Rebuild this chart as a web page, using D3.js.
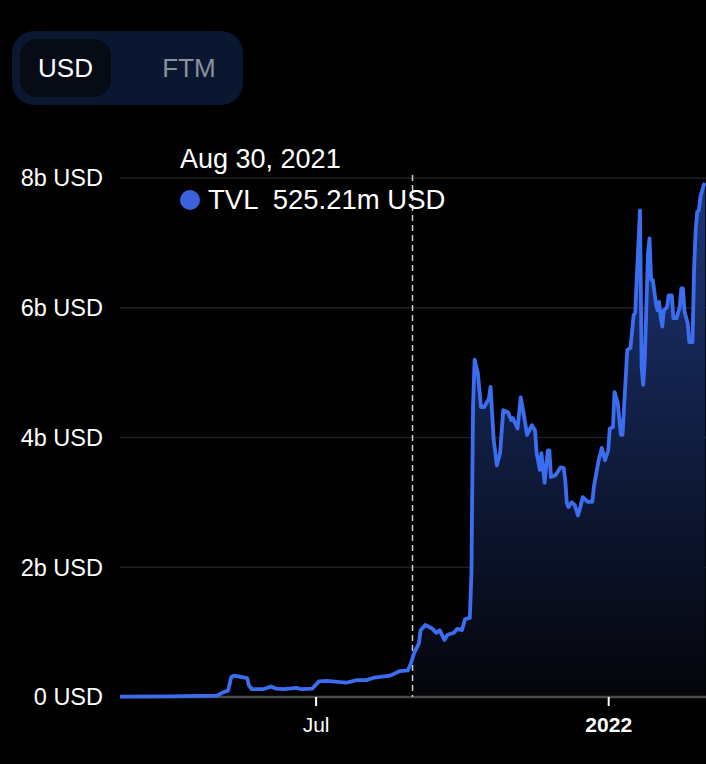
<!DOCTYPE html>
<html>

<head>
    <style>
        body {
            margin: 0;
            background: black;
        }

        svg {
            font-family: "Liberation Sans", Arial, sans-serif;
            background: black;
            display: block;
        }

        .grid line {
            stroke: #1f1f1f;
            stroke-width: 1.5px;
        }

        .line {
            fill: none;
            stroke: #3a6df0;
            stroke-width: 3.8px;
            stroke-linejoin: round;
        }
    </style>
    <script src="https://d3js.org/d3.v7.min.js"></script>
    <title>TVL</title>
</head>

<body>
    <div id="myGraph"></div>
</body>

</html>

<script>
    // TVL in billions USD
    var tvlDates = [
        "2021-02-28", "2021-03-31", "2021-04-30", "2021-05-03", "2021-05-07", "2021-05-09", "2021-05-11",
        "2021-05-15", "2021-05-19", "2021-05-20", "2021-05-22", "2021-05-29", "2021-06-03", "2021-06-06",
        "2021-06-11", "2021-06-19", "2021-06-22", "2021-06-29", "2021-07-03", "2021-07-08", "2021-07-20",
        "2021-07-27", "2021-08-02", "2021-08-07", "2021-08-17", "2021-08-23", "2021-08-28", "2021-08-30",
        "2021-09-01", "2021-09-04", "2021-09-05", "2021-09-08", "2021-09-12", "2021-09-15", "2021-09-17",
        "2021-09-20", "2021-09-22", "2021-09-26", "2021-09-28", "2021-10-01", "2021-10-03", "2021-10-06",
        "2021-10-07", "2021-10-08", "2021-10-09", "2021-10-11", "2021-10-13", "2021-10-15", "2021-10-18",
        "2021-10-19", "2021-10-21", "2021-10-23", "2021-10-25", "2021-10-27", "2021-10-30", "2021-11-01",
        "2021-11-02", "2021-11-05", "2021-11-07", "2021-11-09", "2021-11-11", "2021-11-14", "2021-11-16",
        "2021-11-17", "2021-11-19", "2021-11-20", "2021-11-21", "2021-11-22", "2021-11-24", "2021-11-25",
        "2021-11-26", "2021-11-29", "2021-12-02", "2021-12-04", "2021-12-05", "2021-12-06", "2021-12-07",
        "2021-12-09", "2021-12-11", "2021-12-13", "2021-12-14", "2021-12-16", "2021-12-19", "2021-12-22",
        "2021-12-23", "2021-12-26", "2021-12-28", "2021-12-30", "2022-01-01", "2022-01-02", "2022-01-04",
        "2022-01-05", "2022-01-07", "2022-01-09", "2022-01-10", "2022-01-13", "2022-01-15", "2022-01-17",
        "2022-01-18", "2022-01-19", "2022-01-21", "2022-01-22", "2022-01-23", "2022-01-24", "2022-01-26",
        "2022-01-27", "2022-01-28", "2022-01-29", "2022-01-31", "2022-02-01", "2022-02-02", "2022-02-03",
        "2022-02-04", "2022-02-05", "2022-02-07", "2022-02-08", "2022-02-10", "2022-02-11", "2022-02-13",
        "2022-02-15", "2022-02-16", "2022-02-17", "2022-02-18", "2022-02-20", "2022-02-21", "2022-02-23",
        "2022-02-24", "2022-02-25", "2022-02-26", "2022-02-27", "2022-02-28", "2022-03-02", "2022-03-03"
    ];
    var tvlValues = [
        0.005, 0.01, 0.02, 0.06, 0.10, 0.31, 0.33,
        0.31, 0.29, 0.18, 0.12, 0.12, 0.16, 0.13,
        0.12, 0.14, 0.12, 0.13, 0.24, 0.25, 0.22,
        0.26, 0.26, 0.30, 0.33, 0.40, 0.41, 0.525,
        0.68, 0.83, 1.03, 1.11, 1.06, 0.99, 1.03,
        0.88, 0.96, 0.99, 1.05, 1.03, 1.20, 1.22,
        1.91, 4.47, 5.20, 5.00, 4.47, 4.47, 4.60,
        4.78, 3.96, 3.57, 3.76, 4.42, 4.39, 4.27,
        4.30, 4.14, 4.62, 4.34, 4.04, 4.19, 4.11,
        3.76, 3.50, 3.76, 3.53, 3.30, 3.80, 3.80,
        3.39, 3.42, 3.54, 3.53, 3.34, 2.99, 2.93,
        3.00, 2.96, 2.80, 2.88, 3.08, 3.01, 3.01,
        3.24, 3.65, 3.84, 3.65, 3.80, 4.14, 4.16,
        4.70, 4.53, 4.04, 4.04, 5.35, 5.38, 5.89,
        5.92, 6.48, 7.50, 5.09, 4.81, 5.19, 6.84,
        7.07, 6.43, 6.43, 6.07, 5.96, 6.09, 5.86,
        5.71, 5.96, 6.01, 6.19, 6.19, 5.84, 5.84,
        6.01, 6.30, 6.30, 5.94, 5.76, 5.47, 5.47,
        6.58, 7.20, 7.48, 7.50, 7.71, 7.89, 7.92
    ];
    var yTicks = [0, 2, 4, 6, 8];
    var yTickLabels = ["0 USD", "2b USD", "4b USD", "6b USD", "8b USD"];
    var xTicks = ["2021-07-01", "2022-01-01"];
    var toggleLabels = ["USD", "FTM"];
    var hoverDate = "2021-08-30",
        hoverLabel = "Aug 30, 2021",
        hoverValue = "525.21m USD";

    var parse = d3.timeParse("%Y-%m-%d");
    var data = tvlDates.map(function (d, i) {
        return { date: parse(d), value: tvlValues[i] };
    });

    var width = 706,
        height = 764,
        plotLeft = 120,
        plotRight = 706,
        plotTop = 178,
        plotBottom = 697;

    var x = d3.scaleTime()
        .domain([parse("2021-02-28"), new Date(2022, 2, 3, 12)])
        .range([plotLeft, plotRight]);

    var y = d3.scaleLinear()
        .domain([0, 8])
        .range([plotBottom, plotTop]);

    var svg = d3.select("#myGraph").append("svg")
        .attr("width", width)
        .attr("height", height);

    // toggle
    var toggle = svg.append("g");
    toggle.append("rect")
        .attr("x", 12).attr("y", 31)
        .attr("width", 231).attr("height", 74)
        .attr("rx", 22)
        .attr("fill", "#0b1730");
    toggle.append("rect")
        .attr("x", 20).attr("y", 39)
        .attr("width", 91).attr("height", 58)
        .attr("rx", 17)
        .attr("fill", "#060b16");
    toggle.selectAll("text")
        .data(toggleLabels)
        .enter().append("text")
        .attr("x", function (d, i) { return i == 0 ? 65.5 : 189; })
        .attr("y", 77)
        .attr("text-anchor", "middle")
        .attr("font-size", "26px")
        .attr("fill", function (d, i) { return i == 0 ? "#ffffff" : "#8a909c"; })
        .text(function (d) { return d; });

    var defs = svg.append("defs");
    var grad = defs.append("linearGradient")
        .attr("id", "fillGrad")
        .attr("gradientUnits", "userSpaceOnUse")
        .attr("x1", 0).attr("y1", plotTop)
        .attr("x2", 0).attr("y2", plotBottom);
    grad.append("stop").attr("offset", "0%").attr("stop-color", "rgb(30,54,120)");
    grad.append("stop").attr("offset", "100%").attr("stop-color", "rgb(4,5,10)");

    var hoverX = x(parse(hoverDate)) + 1.5;

    defs.append("clipPath")
        .attr("id", "clip")
        .append("rect")
        .attr("x", hoverX)
        .attr("y", 0)
        .attr("width", plotRight - hoverX)
        .attr("height", plotBottom);

    // grid lines
    svg.append("g")
        .attr("class", "grid")
        .selectAll("line")
        .data(yTicks.filter(function (d) { return d > 0; }))
        .enter().append("line")
        .attr("x1", plotLeft).attr("x2", plotRight)
        .attr("y1", function (d) { return y(d); })
        .attr("y2", function (d) { return y(d); });

    // y labels
    svg.append("g")
        .selectAll("text")
        .data(yTicks)
        .enter().append("text")
        .attr("x", 103)
        .attr("y", function (d) { return y(d); })
        .attr("dy", "0.36em")
        .attr("text-anchor", "end")
        .attr("font-size", "23.5px")
        .attr("fill", "#ffffff")
        .text(function (d, i) { return yTickLabels[i]; });

    // area, only right of the hover line
    var area = d3.area()
        .x(function (d) { return x(d.date); })
        .y0(plotBottom)
        .y1(function (d) { return y(d.value); });

    svg.append("path")
        .datum(data)
        .attr("clip-path", "url(#clip)")
        .attr("fill", "url(#fillGrad)")
        .attr("d", area);

    // x axis
    var xAxis = d3.axisBottom(x)
        .tickValues(xTicks.map(parse))
        .tickSize(9)
        .tickFormat(function (d) {
            return d.getMonth() == 0 ? d3.timeFormat("%Y")(d) : d3.timeFormat("%b")(d);
        });

    var axis = svg.append("g")
        .attr("transform", "translate(0," + plotBottom + ")")
        .call(xAxis)
        .attr("font-size", 21)
        .attr("font-family", "'Liberation Sans', Arial, sans-serif");
    axis.select(".domain")
        .attr("d", "M" + plotLeft + ",0H" + plotRight)
        .attr("stroke", "#4a4a4a")
        .attr("stroke-width", 2.5);
    axis.selectAll(".tick line")
        .attr("stroke", "#ffffff")
        .attr("stroke-width", 2);
    axis.selectAll(".tick text")
        .attr("fill", "#ffffff")
        .attr("y", 20)
        .attr("dy", "0.71em")
        .attr("font-weight", function (d) { return d.getMonth() == 0 ? "bold" : "normal"; });

    // hover line
    svg.append("line")
        .attr("x1", hoverX).attr("x2", hoverX)
        .attr("y1", plotTop - 3).attr("y2", plotBottom)
        .attr("stroke", "#d0d0d0")
        .attr("stroke-width", 1.5)
        .attr("stroke-dasharray", "6,4");

    var line = d3.line()
        .x(function (d) { return x(d.date); })
        .y(function (d) { return y(d.value); });

    svg.append("path")
        .datum(data)
        .attr("class", "line")
        .attr("d", line);

    // tooltip
    var tip = svg.append("g");
    tip.append("text")
        .attr("x", 180).attr("y", 168)
        .attr("font-size", "27px")
        .attr("fill", "#ffffff")
        .text(hoverLabel);
    tip.append("circle")
        .attr("cx", 190).attr("cy", 200)
        .attr("r", 10)
        .attr("fill", "#3a62dc");
    tip.append("text")
        .attr("x", 208).attr("y", 209)
        .attr("font-size", "27.5px")
        .attr("fill", "#ffffff")
        .attr("xml:space", "preserve")
        .text("TVL  " + hoverValue);
</script>
